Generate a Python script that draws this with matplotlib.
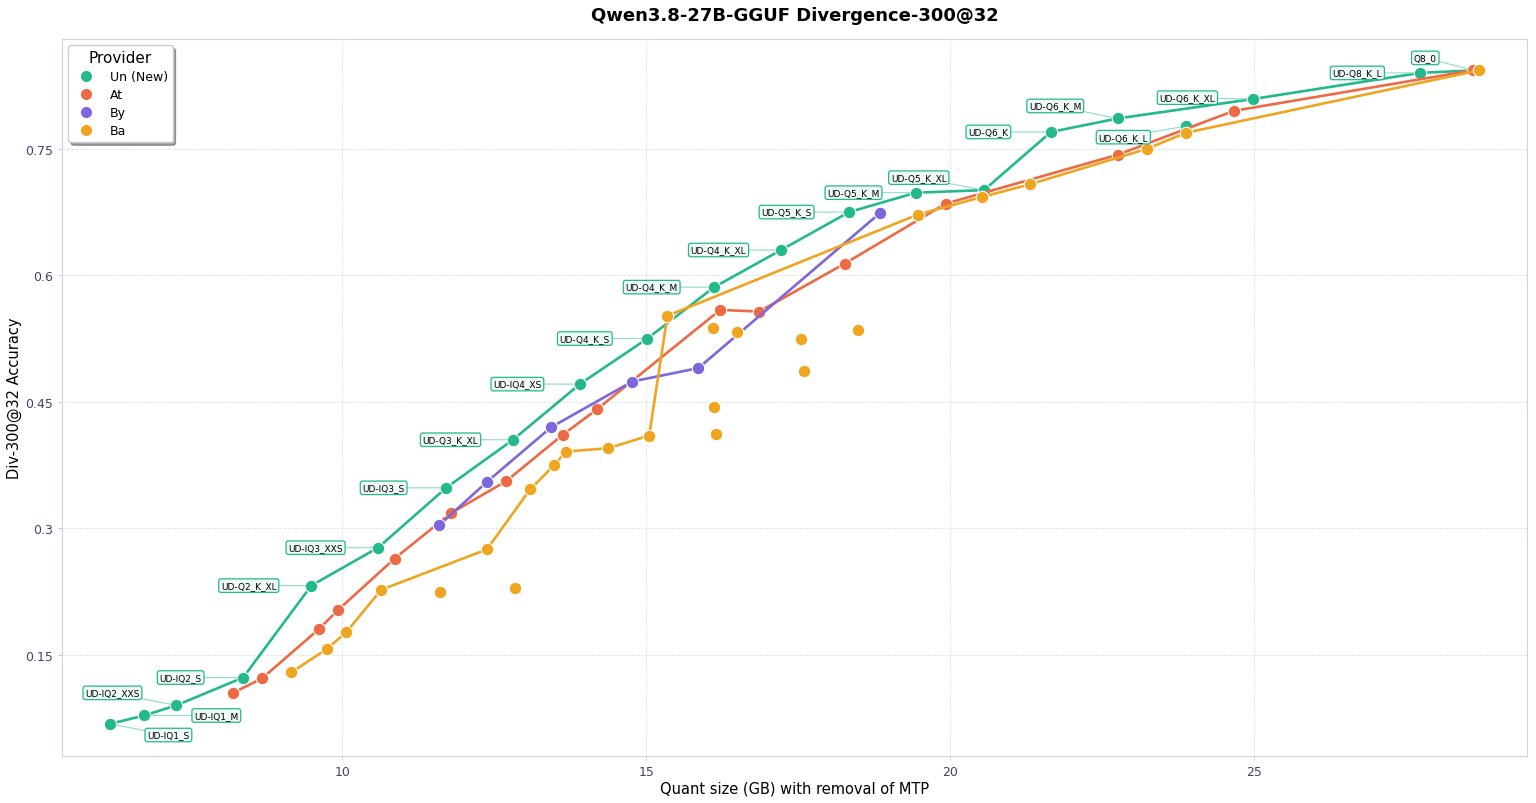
import matplotlib
matplotlib.use('Agg')
import matplotlib.pyplot as plt
from matplotlib.lines import Line2D

plt.rcParams['font.family'] = ['DejaVu Sans']

# Un (New) - unsloth dynamic quants
un_names = ['UD-IQ1_S', 'UD-IQ1_M', 'UD-IQ2_XXS', 'UD-IQ2_S', 'UD-Q2_K_XL',
            'UD-IQ3_XXS', 'UD-IQ3_S', 'UD-Q3_K_XL', 'UD-IQ4_XS', 'UD-Q4_K_S',
            'UD-Q4_K_M', 'UD-Q4_K_XL', 'UD-Q5_K_S', 'UD-Q5_K_M', 'UD-Q5_K_XL',
            'UD-Q6_K', 'UD-Q6_K_M', 'UD-Q6_K_L', 'UD-Q6_K_XL', 'UD-Q8_K_L', 'Q8_0']
un_x = [6.18, 6.74, 7.27, 8.37, 9.49, 10.59, 11.71, 12.81, 13.91, 15.02,
        16.12, 17.22, 18.34, 19.44, 20.56, 21.66, 22.76, 23.88, 24.98, 27.73, 28.62]
un_y = [0.068, 0.078, 0.090, 0.123, 0.232, 0.277, 0.348, 0.405, 0.471, 0.525,
        0.586, 0.630, 0.675, 0.698, 0.701, 0.770, 0.786, 0.777, 0.809, 0.840, 0.843]
un_off_line = ['UD-Q6_K_L']

# At
at_x = [8.21, 8.68, 9.61, 9.93, 10.86, 11.79, 12.70, 13.63, 14.19, 16.22,
        16.86, 18.27, 19.93, 22.76, 24.67, 28.60]
at_y = [0.105, 0.122, 0.180, 0.203, 0.264, 0.318, 0.356, 0.411, 0.441, 0.559,
        0.557, 0.614, 0.685, 0.743, 0.795, 0.843]

# By
by_x = [11.60, 12.38, 13.44, 14.77, 15.86, 18.85]
by_y = [0.304, 0.355, 0.420, 0.474, 0.490, 0.674]

# Ba (line) + extra points without line
ba_x = [9.16, 9.75, 10.07, 10.64, 12.38, 13.09, 13.49, 13.68, 14.38, 15.05,
        15.35, 19.47, 20.53, 21.32, 23.24, 23.88, 28.70]
ba_y = [0.129, 0.157, 0.177, 0.227, 0.275, 0.346, 0.375, 0.391, 0.395, 0.410,
        0.552, 0.672, 0.693, 0.708, 0.750, 0.769, 0.843]
ba_extra_x = [11.61, 12.85, 16.10, 16.50, 17.55, 17.60, 18.49, 16.12, 16.15]
ba_extra_y = [0.225, 0.229, 0.538, 0.533, 0.525, 0.486, 0.535, 0.444, 0.412]

providers = ['Un (New)', 'At', 'By', 'Ba']
colors = {'Un (New)': '#24b98b', 'At': '#ee6a44', 'By': '#7d67dc', 'Ba': '#efa51f'}

# label offsets in points (default is left of the point)
label_offsets = {
    'UD-IQ1_S': (42, -8), 'UD-IQ1_M': (52, 0), 'UD-IQ2_XXS': (-46, 9),
    'UD-Q5_K_XL': (-47, 9), 'UD-Q6_K_M': (-45, 9), 'UD-Q6_K_L': (-45, -8),
    'UD-Q6_K_XL': (-47, 1), 'Q8_0': (-35, 9),
}
default_offset = (-45, 0)

fig = plt.figure(figsize=(15.36, 8.04), dpi=100)
ax = fig.add_axes([0.0404, 0.0585, 0.9536, 0.8915])

mk = dict(marker='o', markersize=9, markeredgecolor='white', markeredgewidth=0.8, lw=1.9)

line_x = [x for n, x in zip(un_names, un_x) if n not in un_off_line]
line_y = [y for n, y in zip(un_names, un_y) if n not in un_off_line]
ax.plot(line_x, line_y, color=colors['Un (New)'], zorder=3, **mk)
off_x = [x for n, x in zip(un_names, un_x) if n in un_off_line]
off_y = [y for n, y in zip(un_names, un_y) if n in un_off_line]
ax.plot(off_x, off_y, ls='none', color=colors['Un (New)'], zorder=3, **mk)

ax.plot(at_x, at_y, color=colors['At'], zorder=4, **mk)
ax.plot(by_x, by_y, color=colors['By'], zorder=5, **mk)
ax.plot(ba_x, ba_y, color=colors['Ba'], zorder=6, **mk)
ax.plot(ba_extra_x, ba_extra_y, ls='none', color=colors['Ba'], zorder=6, **mk)

for n, x, y in zip(un_names, un_x, un_y):
    ax.annotate(n, xy=(x, y), xytext=label_offsets.get(n, default_offset),
                textcoords='offset points', ha='center', va='center', fontsize=6.5,
                bbox=dict(boxstyle='round,pad=0.25', fc='#effaf6', ec=colors['Un (New)'], lw=0.9),
                arrowprops=dict(arrowstyle='-', color='#8fdcc2', lw=0.8, shrinkA=0, shrinkB=4),
                zorder=7)

ax.set_xlim(5.39, 29.49)
ax.set_ylim(0.030, 0.880)
ax.set_xticks([10, 15, 20, 25])
ax.set_yticks([0.15, 0.3, 0.45, 0.6, 0.75])
ax.set_yticklabels(['0.15', '0.3', '0.45', '0.6', '0.75'])
ax.tick_params(labelsize=9, colors='#3d4470', length=3, color='#c8ccd6')
ax.grid(True, ls='--', lw=0.6, color='#dde3ea')
ax.set_axisbelow(True)
for s in ax.spines.values():
    s.set_color('#cfd5de')

ax.set_xlabel('Quant size (GB) with removal of MTP', fontsize=10.5, labelpad=2)
ax.set_ylabel('Div-300@32 Accuracy', fontsize=10.5, labelpad=2)
ax.set_title('Qwen3.8-27B-GGUF Divergence-300@32', fontsize=13, fontweight='bold', pad=14)

handles = [Line2D([], [], ls='none', marker='o', markersize=7, color=colors[p]) for p in providers]
leg = ax.legend(handles, providers, title='Provider', loc='upper left', fontsize=9,
                title_fontsize=11, shadow=True, fancybox=True, framealpha=1,
                borderpad=0.4, handletextpad=0.9, labelspacing=0.4)
leg.get_frame().set_edgecolor('#cccccc')

fig.savefig('out.png', dpi=100)
